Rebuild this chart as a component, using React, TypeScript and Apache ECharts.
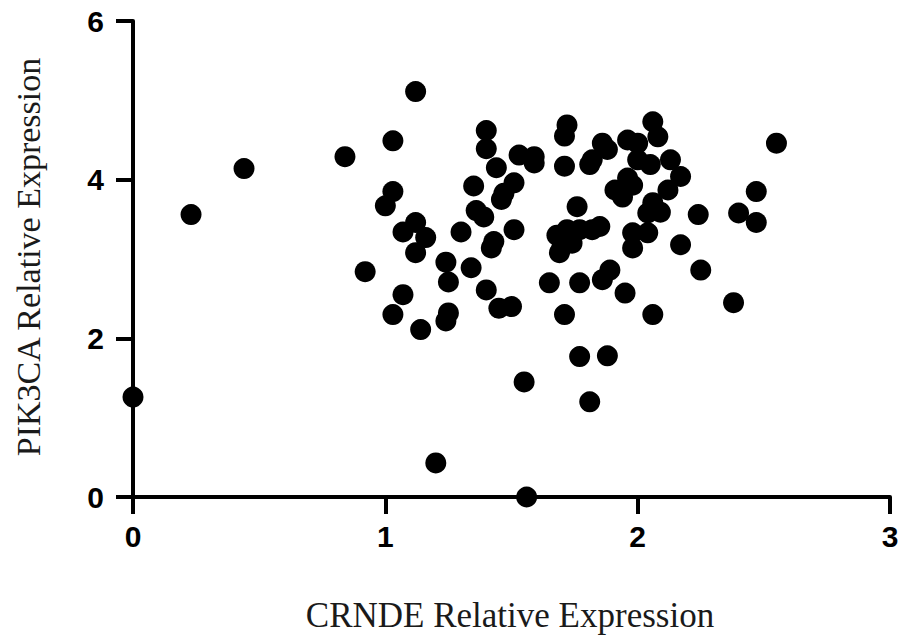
import React, { useEffect, useRef } from "react";
import * as echarts from "echarts";

const xTickLabels = ["0", "1", "2", "3"];
const yTickLabels = ["0", "2", "4", "6"];
const xTitle = "CRNDE Relative Expression";
const yTitle = "PIK3CA Relative Expression";

// CRNDE relative expression (x) for each sample
const crnde: number[] = [
  0.0, 0.23, 0.44, 0.84, 0.92, 1.0, 1.03, 1.03, 1.03, 1.07,
  1.12, 1.07, 1.12, 1.16, 1.12, 1.14, 1.2, 1.24, 1.25, 1.25,
  1.24, 1.3, 1.34, 1.35, 1.36, 1.39, 1.4, 1.4, 1.4, 1.44,
  1.43, 1.42, 1.46, 1.47, 1.51, 1.51, 1.45, 1.5, 1.53, 1.59,
  1.59, 1.55, 1.56, 1.65, 1.69, 1.7, 1.74, 1.71, 1.72, 1.71,
  1.71, 1.76, 1.72, 1.68, 1.77, 1.82, 1.85, 1.77, 1.77, 1.81,
  1.81, 1.82, 1.86, 1.88, 1.96, 2.0, 2.0, 2.05, 2.06, 2.08,
  2.13, 2.17, 2.12, 1.96, 1.98, 1.91, 1.94, 2.06, 2.04, 2.09,
  1.98, 2.04, 1.98, 2.17, 1.89, 1.86, 2.25, 1.95, 2.06, 2.38,
  1.88, 2.55, 2.47, 2.4, 2.47, 2.24,
];

// PIK3CA relative expression (y) for each sample
const pik3ca: number[] = [
  1.26, 3.56, 4.14, 4.29, 2.84, 3.67, 4.49, 3.85, 2.3, 2.55,
  5.11, 3.34, 3.46, 3.27, 3.08, 2.11, 0.43, 2.96, 2.71, 2.32,
  2.22, 3.34, 2.89, 3.92, 3.61, 3.53, 4.62, 4.39, 2.61, 4.15,
  3.22, 3.14, 3.75, 3.83, 3.96, 3.37, 2.38, 2.4, 4.31, 4.29,
  4.21, 1.45, 0.0, 2.7, 3.08, 3.15, 3.2, 2.3, 4.69, 4.55,
  4.17, 3.66, 3.37, 3.3, 3.37, 3.37, 3.41, 2.7, 1.77, 1.2,
  4.19, 4.25, 4.46, 4.38, 4.5, 4.46, 4.25, 4.19, 4.73, 4.54,
  4.25, 4.04, 3.87, 4.02, 3.93, 3.87, 3.78, 3.71, 3.58, 3.59,
  3.33, 3.33, 3.14, 3.18, 2.86, 2.74, 2.86, 2.57, 2.3, 2.45,
  1.78, 4.46, 3.85, 3.58, 3.46, 3.56,
];

export default function App() {
  const ref = useRef<HTMLDivElement>(null);

  useEffect(() => {
    document.body.style.margin = "0";
    if (!ref.current) return;
    const chart = echarts.init(ref.current, undefined, { renderer: "svg" });
    const points = crnde.map((x, i) => [x, pik3ca[i]]);
    const axisLineStyle = { color: "#000", width: 4 };
    chart.setOption({
      animation: false,
      backgroundColor: "#fff",
      grid: { left: 133, right: 13, top: 21, bottom: 138, containLabel: false },
      xAxis: {
        type: "value",
        min: 0,
        max: 3,
        interval: 1,
        axisLine: { show: true, lineStyle: axisLineStyle, onZero: false },
        axisTick: { show: true, length: 17, lineStyle: axisLineStyle },
        splitLine: { show: false },
        axisLabel: {
          margin: 24,
          color: "#000",
          fontFamily: "Liberation Sans, Arial, sans-serif",
          fontWeight: "bold",
          fontSize: 30,
          formatter: (v: number) => xTickLabels[Math.round(v)] ?? "",
        },
      },
      yAxis: {
        type: "value",
        min: 0,
        max: 6,
        interval: 2,
        axisLine: { show: true, lineStyle: axisLineStyle, onZero: false },
        axisTick: { show: true, length: 17, lineStyle: axisLineStyle },
        splitLine: { show: false },
        axisLabel: {
          margin: 29,
          color: "#000",
          fontFamily: "Liberation Sans, Arial, sans-serif",
          fontWeight: "bold",
          fontSize: 30,
          formatter: (v: number) => yTickLabels[Math.round(v / 2)] ?? "",
        },
      },
      graphic: [
        {
          type: "text",
          x: 510,
          y: 615,
          style: {
            text: xTitle,
            fill: "#1a1a1a",
            font: "35px 'Liberation Serif', 'Times New Roman', serif",
            textAlign: "center",
            textVerticalAlign: "middle",
          },
        },
        {
          type: "text",
          x: 28,
          y: 257,
          rotation: Math.PI / 2,
          style: {
            text: yTitle,
            fill: "#1a1a1a",
            font: "34px 'Liberation Serif', 'Times New Roman', serif",
            textAlign: "center",
            textVerticalAlign: "middle",
          },
        },
      ],
      series: [
        {
          type: "scatter",
          data: points,
          symbol: "circle",
          symbolSize: 21,
          clip: false,
          itemStyle: { color: "#000", opacity: 1 },
          z: 5,
        },
      ],
    });
    return () => chart.dispose();
  }, []);

  return <div ref={ref} style={{ width: 903, height: 635 }} />;
}
